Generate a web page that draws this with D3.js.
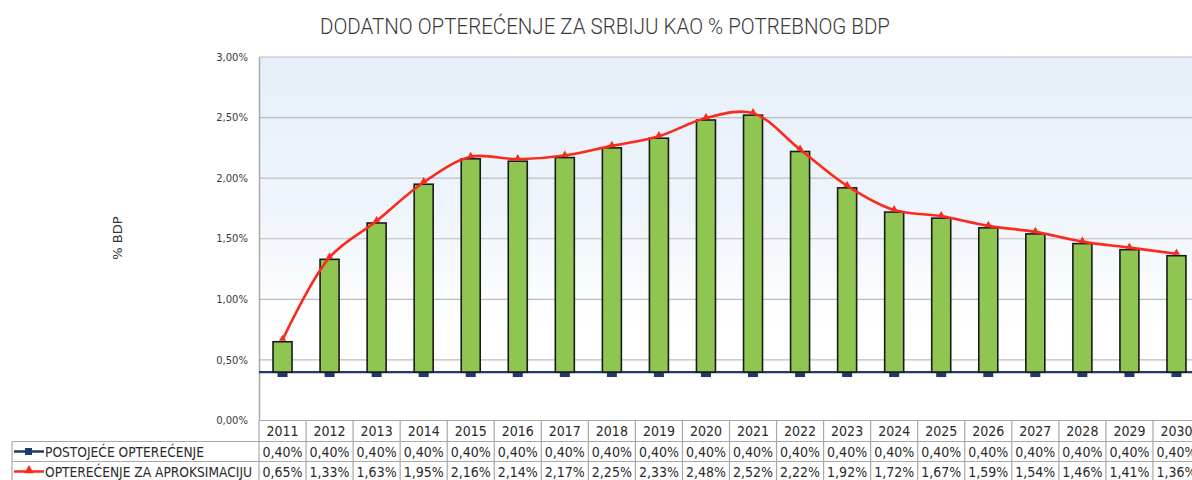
<!DOCTYPE html>
<html><head><meta charset="utf-8">
<script src="https://cdn.jsdelivr.net/npm/d3@7"></script>
<style>
html,body{margin:0;padding:0;background:#fff;}
svg{display:block;}
</style></head>
<body>
<script>
const title = "DODATNO OPTEREĆENJE ZA SRBIJU KAO % POTREBNOG BDP";
const yLabel = "% BDP";
const years = ["2011","2012","2013","2014","2015","2016","2017","2018","2019","2020","2021","2022","2023","2024","2025","2026","2027","2028","2029","2030"];
const seriesNames = ["POSTOJEĆE OPTEREĆENJE","OPTEREĆENJE ZA APROKSIMACIJU"];
const existing = [0.40,0.40,0.40,0.40,0.40,0.40,0.40,0.40,0.40,0.40,0.40,0.40,0.40,0.40,0.40,0.40,0.40,0.40,0.40,0.40];
const approx = [0.65,1.33,1.63,1.95,2.16,2.14,2.17,2.25,2.33,2.48,2.52,2.22,1.92,1.72,1.67,1.59,1.54,1.46,1.41,1.36];
const yTicks = [0,0.5,1.0,1.5,2.0,2.5,3.0];

(function(){
const W = 1192, H = 480;
const pLeft = 259, pTop = 57, pBottom = 420.5, bandW = 47.05;
const fmt = v => d3.format(".2f")(v).replace(".", ",") + "%";
const tableFont = "'Liberation Sans Narrow','Arial Narrow','DejaVu Sans Condensed',sans-serif";

const svg = d3.select("body").append("svg").attr("width", W).attr("height", H);
const defs = svg.append("defs");
const grad = defs.append("linearGradient").attr("id","bg").attr("x1",0).attr("y1",0).attr("x2",0).attr("y2",1);
grad.append("stop").attr("offset","0%").attr("stop-color","#e6eff9");
grad.append("stop").attr("offset","40%").attr("stop-color","#eef4fb");
grad.append("stop").attr("offset","75%").attr("stop-color","#ffffff");
grad.append("stop").attr("offset","100%").attr("stop-color","#ffffff");

const x = d3.scaleBand().domain(years).range([pLeft, pLeft + bandW * years.length]).paddingInner(0).paddingOuter(0);
const y = d3.scaleLinear().domain([0, 3]).range([pBottom, pTop]);
const xr = x.range()[1];

// title
svg.append("text").attr("x", 605).attr("y", 34).attr("text-anchor","middle")
  .attr("font-family", "Roboto, 'DejaVu Sans Condensed', sans-serif").attr("font-weight", 300).attr("font-size", 22).attr("fill","#3a3a3a")
  .attr("textLength", 570).attr("lengthAdjust","spacingAndGlyphs").text(title);

// plot background
svg.append("rect").attr("x", pLeft).attr("y", y(3)).attr("width", xr-pLeft).attr("height", y(0)-y(3)).attr("fill","url(#bg)");

// gridlines
svg.append("g").selectAll("line").data(yTicks.filter(t => t>0)).join("line")
  .attr("x1", pLeft).attr("x2", xr).attr("y1", d => y(d)).attr("y2", d => y(d))
  .attr("stroke","#bdbdbd").attr("stroke-width",1.2);

// y axis
const yAxis = d3.axisLeft(y).tickValues(yTicks).tickFormat(fmt).tickSize(0).tickPadding(11);
const ya = svg.append("g").attr("transform", `translate(${pLeft},0)`).call(yAxis);
ya.select(".domain").attr("stroke","#a8a8a8").attr("stroke-width",1.5);
ya.selectAll("text").attr("font-family","'DejaVu Sans',sans-serif").attr("font-size",10).attr("fill","#3a3a3a");

// y label
svg.append("text").attr("transform","translate(122,238) rotate(-90)").attr("text-anchor","middle")
  .attr("font-family","'DejaVu Sans',sans-serif").attr("font-size",13).attr("fill","#333").text(yLabel);

const cx = d => x(d) + x.bandwidth()/2;

// existing line + markers
svg.append("path").datum(existing)
  .attr("d", d3.line().x((d,i)=> i===0 ? pLeft : (i===existing.length-1 ? xr : cx(years[i]))).y(d=>y(d)))
  .attr("fill","none").attr("stroke","#1f3a6b").attr("stroke-width",2.2);
svg.append("g").selectAll("rect").data(existing).join("rect")
  .attr("x",(d,i)=> cx(years[i]) - 5).attr("y", d => y(d) - 5).attr("width",10).attr("height",10)
  .attr("fill","#1f3a6b");

// bars (from existing level to total)
svg.append("g").selectAll("rect").data(approx).join("rect")
  .attr("x",(d,i)=> cx(years[i]) - 9.5).attr("width",19)
  .attr("y", d => y(d)).attr("height",(d,i)=> y(existing[i]) - y(d))
  .attr("fill","#8fc551").attr("stroke","#1a1a1a").attr("stroke-width",1.6);

// red smooth line
const redLine = d3.line().x((d,i)=> cx(years[i])).y(d => y(d) - 2).curve(d3.curveCatmullRom.alpha(0.5));
svg.append("path").datum(approx).attr("d", redLine).attr("fill","none").attr("stroke","#fb2a1c").attr("stroke-width",2.6);
const tri = d3.symbol().type(d3.symbolTriangle).size(22);
svg.append("g").selectAll("path").data(approx).join("path")
  .attr("d", tri).attr("transform",(d,i)=> `translate(${cx(years[i])},${y(d)-3})`).attr("fill","#fb2a1c");

// table
const rowY = [420.5, 441.5, 461.5, 481.5];
const tcol = "#a8a8a8";
const tg = svg.append("g");
tg.append("line").attr("x1",pLeft).attr("x2",xr).attr("y1",rowY[0]).attr("y2",rowY[0]).attr("stroke",tcol).attr("stroke-width",1.2);
[1,2,3].forEach(k => tg.append("line").attr("x1",12).attr("x2",xr).attr("y1",rowY[k]).attr("y2",rowY[k]).attr("stroke",tcol).attr("stroke-width",1.2));
tg.append("line").attr("x1",12).attr("x2",12).attr("y1",rowY[1]).attr("y2",rowY[3]).attr("stroke",tcol).attr("stroke-width",1.2);
tg.selectAll("line.v").data(years.concat(["end"])).join("line").attr("class","v")
  .attr("x1",(d,i)=> pLeft + i*bandW).attr("x2",(d,i)=> pLeft + i*bandW)
  .attr("y1",rowY[0]).attr("y2",rowY[3]).attr("stroke",tcol).attr("stroke-width",1.2);

const cellText = (row, arr, f) => tg.append("g").selectAll("text").data(arr).join("text")
  .attr("x",(d,i)=> cx(years[i])).attr("y",(rowY[row]+rowY[row+1])/2 + 5)
  .attr("text-anchor","middle").attr("font-family",tableFont).attr("font-size",14).attr("fill","#2a2a2a").text(f);
cellText(0, years, d => d);
cellText(1, existing, fmt);
cellText(2, approx, fmt);

const ly1 = (rowY[1]+rowY[2])/2, ly2 = (rowY[2]+rowY[3])/2;
tg.append("line").attr("x1",14).attr("x2",44).attr("y1",ly1).attr("y2",ly1).attr("stroke","#1f3a6b").attr("stroke-width",2.5);
tg.append("rect").attr("x",25).attr("y",ly1-3.5).attr("width",7).attr("height",7).attr("fill","#1f3a6b");
tg.append("line").attr("x1",14).attr("x2",44).attr("y1",ly2).attr("y2",ly2).attr("stroke","#fb2a1c").attr("stroke-width",2.5);
tg.append("path").attr("d", d3.symbol().type(d3.symbolTriangle).size(40)).attr("transform",`translate(29,${ly2-1})`).attr("fill","#fb2a1c");
tg.append("text").attr("x",45).attr("y",ly1+5).attr("font-family",tableFont).attr("font-size",14).attr("fill","#2a2a2a")
  .attr("textLength",159).attr("lengthAdjust","spacingAndGlyphs").text(seriesNames[0]);
tg.append("text").attr("x",45).attr("y",ly2+5).attr("font-family",tableFont).attr("font-size",14).attr("fill","#2a2a2a")
  .attr("textLength",207).attr("lengthAdjust","spacingAndGlyphs").text(seriesNames[1]);
})();
</script>
</body></html>
